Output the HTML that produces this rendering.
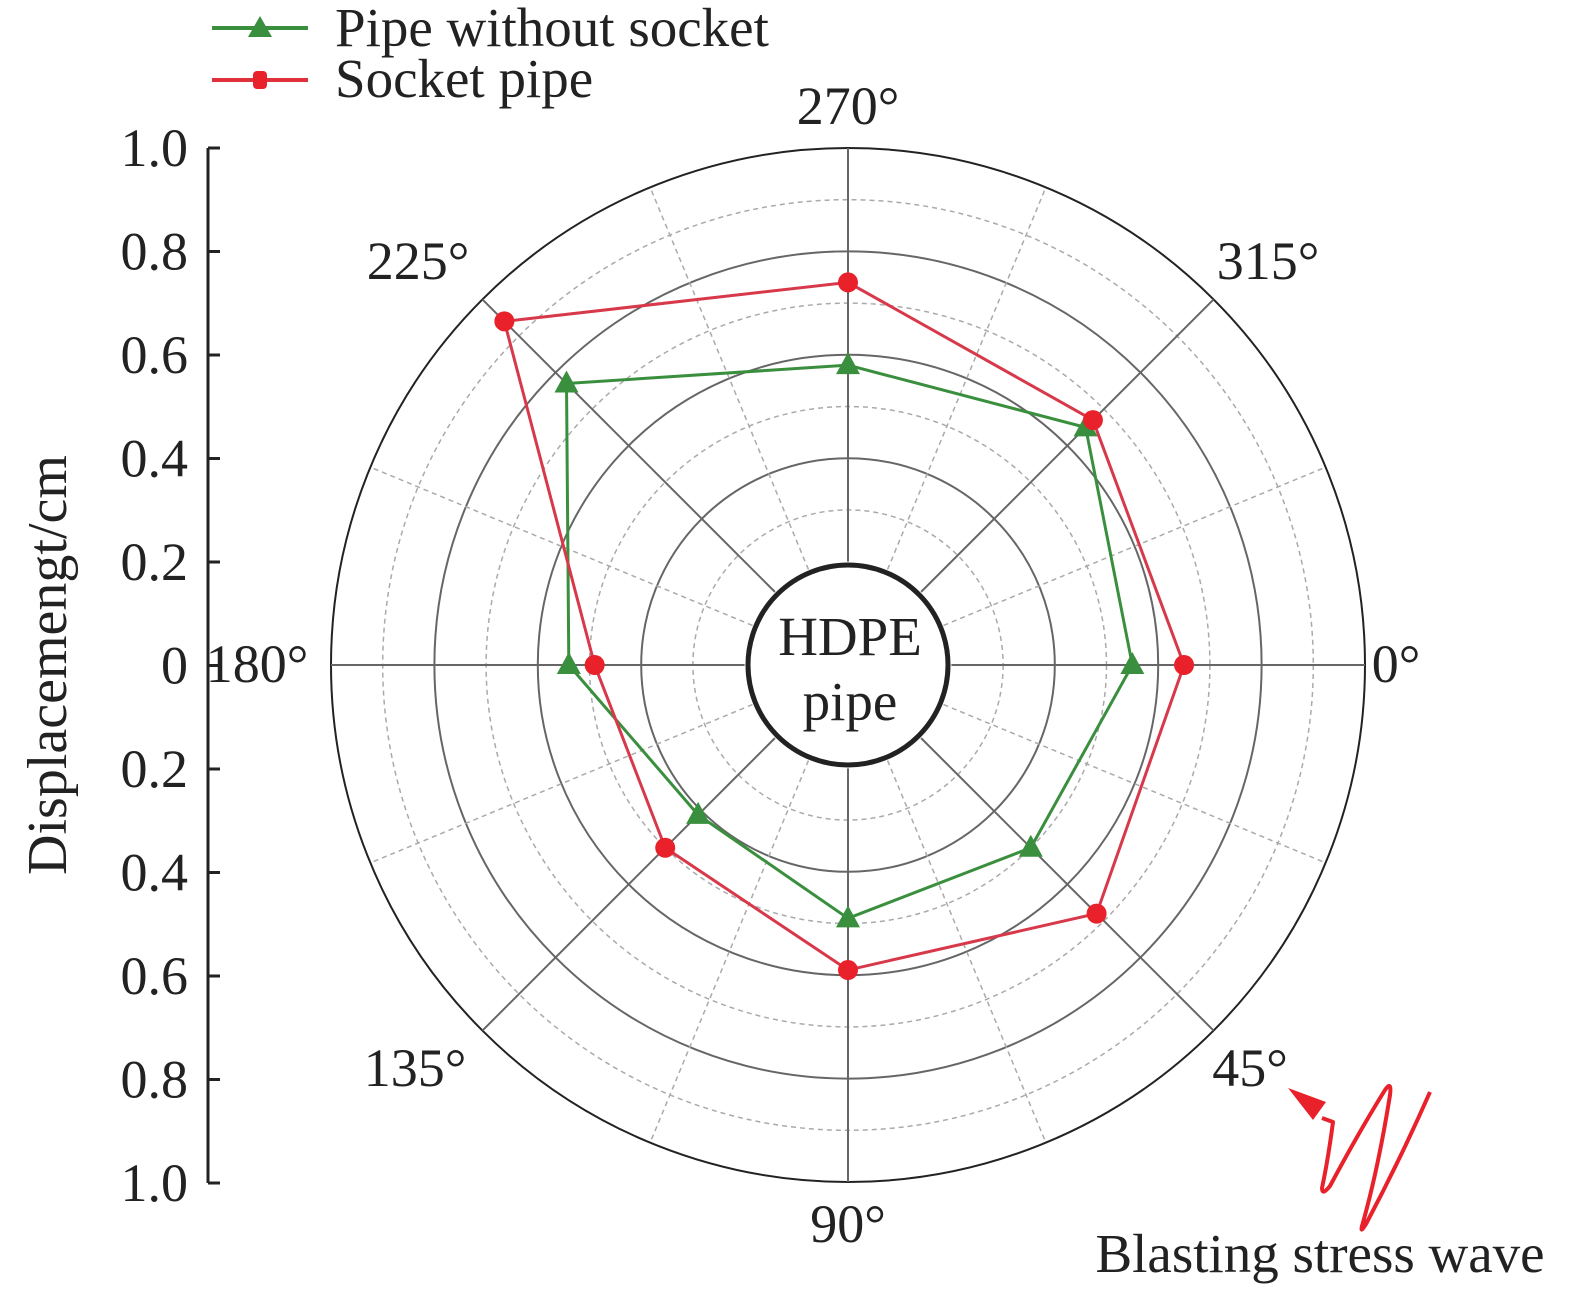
<!DOCTYPE html>
<html><head><meta charset="utf-8"><style>
body{margin:0;background:#fff}
svg{display:block;font-family:"Liberation Serif",serif}
</style></head><body>
<svg id="chart" width="1575" height="1296" viewBox="0 0 1575 1296" xmlns="http://www.w3.org/2000/svg">
<g id="grid"></g>
<g id="series"></g>
<g id="labels"></g>
<g id="yaxis"></g>
<text x="66" y="665" font-size="56" text-anchor="middle" transform="rotate(-90 66 665)" fill="#222">Displacemengt/cm</text>
<circle cx="848" cy="665" r="100" fill="#fff" stroke="#222" stroke-width="5"/>
<text x="850" y="655" font-size="55" text-anchor="middle" fill="#222">HDPE</text>
<text x="850" y="720" font-size="55" text-anchor="middle" fill="#222">pipe</text>
<g>
<line x1="212" y1="28" x2="308" y2="28" stroke="#3a8f3e" stroke-width="4"/>
<polygon points="260,16 248,37 272,37" fill="#3a8f3e"/>
<text x="335" y="46" font-size="55" fill="#222">Pipe without socket</text>
<line x1="212" y1="80" x2="308" y2="80" stroke="#e0303c" stroke-width="4"/>
<rect x="253" y="71" width="14" height="18" rx="4" fill="#e8212a"/>
<text x="335" y="97" font-size="55" fill="#222">Socket pipe</text>
</g>
<g>
<path d="M1322,1118 L1333,1122 Q1328,1160 1322,1188 Q1322,1196 1330,1186 Q1360,1130 1385,1090 Q1392,1080 1390,1095 Q1378,1170 1362,1226 Q1360,1234 1366,1224 Q1400,1160 1430,1092" fill="none" stroke="#e8212a" stroke-width="4" stroke-linejoin="round"/>
<polygon points="1288,1088 1326,1102 1313,1120" fill="#e8212a"/>
<text x="1320" y="1272" font-size="55" text-anchor="middle" fill="#222">Blasting stress wave</text>
</g>
</svg>
<script>
const angles=[0,45,90,135,180,225,270,315];
const greenVals=[0.55,0.50,0.49,0.41,0.54,0.77,0.58,0.65];
const redVals=[0.65,0.68,0.59,0.50,0.49,0.94,0.74,0.67];
const yTicks=["1.0","0.8","0.6","0.4","0.2","0","0.2","0.4","0.6","0.8","1.0"];
const NS="http://www.w3.org/2000/svg";
const cx=848,cy=665,R=517;
function rr(v){return v*R;}
function px(a,v){return cx+rr(v)*Math.cos(a*Math.PI/180);}
function py(a,v){return cy+rr(v)*Math.sin(a*Math.PI/180);}
function mk(tag,attrs,parent){const e=document.createElementNS(NS,tag);for(const k in attrs)e.setAttribute(k,attrs[k]);parent.appendChild(e);return e;}
const grid=document.getElementById('grid');
for(let i=3;i<=10;i++){
  const solid=i%2===0;
  const c=mk('circle',{cx:cx,cy:cy,r:rr(i/10),fill:'none',stroke:solid?(i===10?'#222':'#666'):'#aaa','stroke-width':solid?2:1.5,'stroke-dasharray':solid?'none':'5,4'},grid);
  
  
}
for(let a=0;a<360;a+=22.5){
  const solid=a%45===0;
  const l=mk('line',{x1:px(a,0.2),y1:py(a,0.2),x2:px(a,1),y2:py(a,1),stroke:solid?'#666':'#aaa','stroke-width':solid?2:1.5,'stroke-dasharray':solid?'none':'5,4'},grid);
  
  
}
const ser=document.getElementById('series');
function drawSeries(vals,color,lc,marker,name){
  const pts=angles.map((a,i)=>[px(a,vals[i]),py(a,vals[i])]);
  const pl=mk('polygon',{points:pts.map(p=>p.join(',')).join(' '),fill:'none',stroke:lc,'stroke-width':3},ser);
  
  
  pts.forEach(p=>{
    let m;
    if(marker==='tri') m=mk('polygon',{points:`${p[0]},${p[1]-13} ${p[0]-12},${p[1]+9} ${p[0]+12},${p[1]+9}`,fill:color},ser);
    else m=mk('circle',{cx:p[0],cy:p[1],r:10,fill:color},ser);
    
    
  });
}
drawSeries(greenVals,'#3a8f3e','#3a8f3e','tri','pipe-without-socket');
drawSeries(redVals,'#e8212a','#d8394a','circ','socket-pipe');
const lab=document.getElementById('labels');
const lpos={0:[1396,682],45:[1250,1086],90:[848,1242],135:[415,1086],180:[257,682],225:[418,279],270:[848,124],315:[1268,279]};
angles.forEach(a=>{
  const t=mk('text',{x:lpos[a][0],y:lpos[a][1],'font-size':54,'text-anchor':'middle',fill:'#222'},lab);
  t.textContent=a+'°';
  
  
});
const ya=document.getElementById('yaxis');
const ax=mk('line',{x1:208,y1:148,x2:208,y2:1183,stroke:'#222','stroke-width':3},ya);


yTicks.forEach((t,i)=>{
  const y=148+i*(1183-148)/(yTicks.length-1);
  const tk=mk('line',{x1:208,y1:y,x2:220,y2:y,stroke:'#222','stroke-width':3},ya);
  
  
  const tx=mk('text',{x:188,y:y+18,'font-size':54,'text-anchor':'end',fill:'#222'},ya);
  tx.textContent=t;
  
  
});
</script>
</body></html>
